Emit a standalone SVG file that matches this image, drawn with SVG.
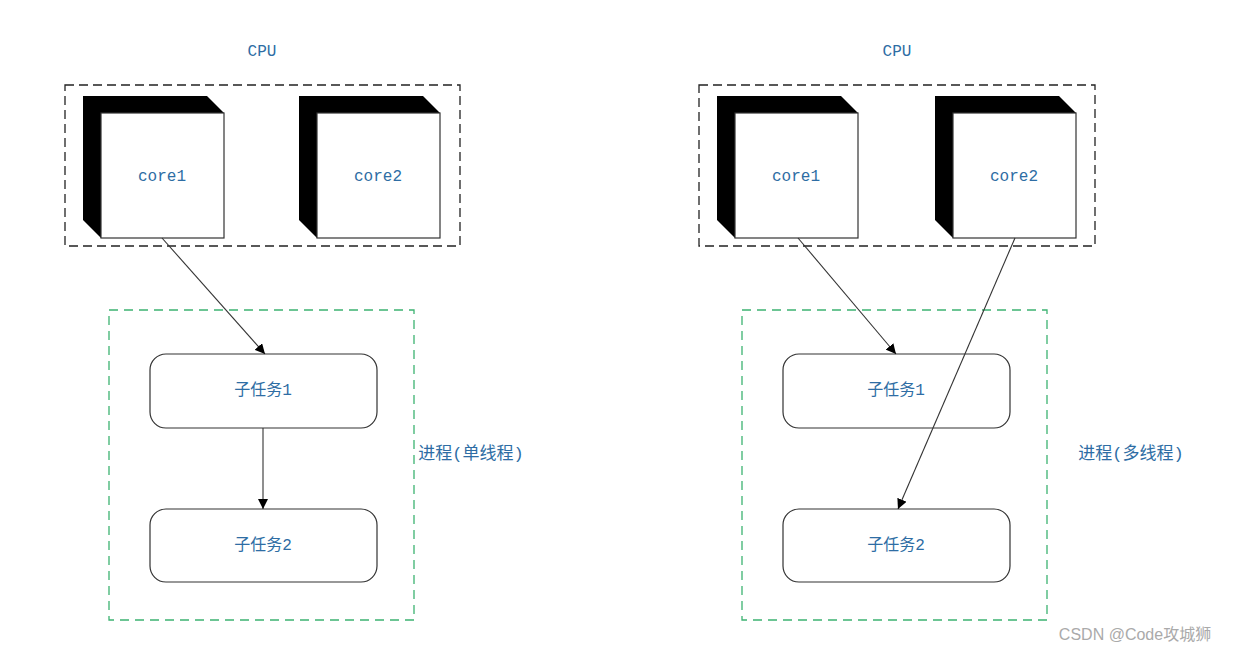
<svg xmlns="http://www.w3.org/2000/svg" width="1242" height="655" viewBox="0 0 1242 655">
<style>
text{font-family:"Liberation Mono","Noto Sans CJK SC",monospace;font-size:16px;fill:#2e6da4;text-anchor:middle;dominant-baseline:middle}
.big{font-size:17px}
.cpu{fill:none;stroke:#222;stroke-width:1.3;stroke-dasharray:9,5}
.proc{fill:none;stroke:#3cb371;stroke-width:1.3;stroke-dasharray:9,6}
.back{fill:#000}
.front{fill:#fff;stroke:#333;stroke-width:1.2}
.task{fill:#fff;stroke:#333;stroke-width:1.2}
.conn line{stroke:#333;stroke-width:1.1;marker-end:url(#ah)}
</style>
<defs>
<marker id="ah" viewBox="0 0 10 10" refX="10" refY="5" markerWidth="10" markerHeight="10" markerUnits="userSpaceOnUse" orient="auto"><path d="M0,0 L10,5 L0,10 z" fill="#000"/></marker>
</defs>
<rect width="1242" height="655" fill="#fff"/>
<g id="cpu-left"><text x="262" y="52">CPU</text><rect class="cpu" x="65" y="85" width="395" height="161"/></g>
<g id="cpu-right"><text x="897" y="52">CPU</text><rect class="cpu" x="699" y="85" width="396" height="161"/></g>
<g id="proc-left"><rect class="proc" x="109" y="310" width="305" height="310"/><text class="big" x="471" y="455">进程(单线程)</text></g>
<g id="proc-right"><rect class="proc" x="742" y="310" width="305" height="310"/><text class="big" x="1131" y="455">进程(多线程)</text></g>
<g id="core1-left"><path class="back" d="M83,96 H207 L224,113 V238 H101 L83,220 Z"/><rect class="front" x="101" y="113" width="123" height="125"/><text x="162" y="177">core1</text></g>
<g id="core2-left"><path class="back" d="M299,96 H423 L440,113 V238 H317 L299,220 Z"/><rect class="front" x="317" y="113" width="123" height="125"/><text x="378" y="177">core2</text></g>
<g id="core1-right"><path class="back" d="M717,96 H841 L858,113 V238 H735 L717,220 Z"/><rect class="front" x="735" y="113" width="123" height="125"/><text x="796" y="177">core1</text></g>
<g id="core2-right"><path class="back" d="M935,96 H1059 L1076,113 V238 H953 L935,220 Z"/><rect class="front" x="953" y="113" width="123" height="125"/><text x="1014" y="177">core2</text></g>
<g id="task1-left"><rect class="task" x="150" y="354" width="227" height="74" rx="16"/><text x="263" y="391">子任务1</text></g>
<g id="task2-left"><rect class="task" x="150" y="509" width="227" height="73" rx="16"/><text x="263" y="546">子任务2</text></g>
<g id="task1-right"><rect class="task" x="783" y="354" width="227" height="74" rx="16"/><text x="896" y="391">子任务1</text></g>
<g id="task2-right"><rect class="task" x="783" y="509" width="227" height="73" rx="16"/><text x="896" y="546">子任务2</text></g>
<g class="conn" id="connectors">
<line x1="162" y1="238" x2="265" y2="354"/>
<line x1="263" y1="428" x2="263" y2="509"/>
<line x1="798" y1="238" x2="896" y2="354"/>
<line x1="1015" y1="238" x2="898" y2="509"/>
</g>
<text x="1135" y="636" style="font-family:'Liberation Sans','Noto Sans CJK SC',sans-serif;fill:#aaa;font-size:16px">CSDN @Code攻城狮</text>
</svg>
